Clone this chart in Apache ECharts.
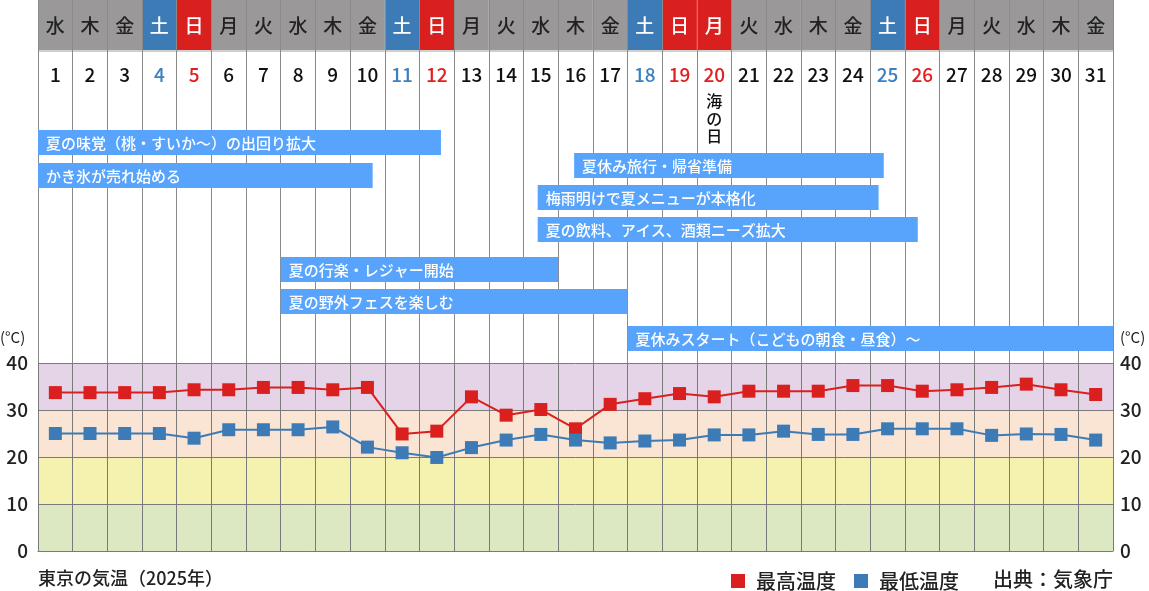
<!DOCTYPE html>
<html><head><meta charset="utf-8">
<script src="https://cdn.jsdelivr.net/npm/echarts@6/dist/echarts.min.js"></script>
<style>html,body{margin:0;padding:0;background:#fff}#c{width:1149px;height:591px}</style>
</head><body><div id="c"></div>
<script>
// ---------- data ----------
const days = [1,2,3,4,5,6,7,8,9,10,11,12,13,14,15,16,17,18,19,20,21,22,23,24,25,26,27,28,29,30,31];
const weekdays = ['水','木','金','土','日','月','火','水','木','金','土','日','月','火','水','木','金','土','日','月','火','水','木','金','土','日','月','火','水','木','金'];
const holidays = [20];
const holidayNames = ['海の日'];
const maxTemp = [33.7,33.7,33.7,33.7,34.3,34.3,34.8,34.8,34.3,34.8,24.9,25.5,32.8,28.9,30.1,26.0,31.2,32.4,33.5,32.8,34.0,34.0,34.0,35.2,35.2,34.0,34.3,34.8,35.5,34.3,33.3];
const minTemp = [25.0,25.0,25.0,25.0,24.0,25.8,25.8,25.8,26.4,22.1,20.9,19.9,22.0,23.6,24.8,23.6,23.0,23.4,23.6,24.7,24.7,25.5,24.8,24.8,26.0,26.0,26.0,24.6,24.9,24.8,23.6];
const eventLabels = ['夏の味覚（桃・すいか〜）の出回り拡大','かき氷が売れ始める','夏休み旅行・帰省準備','梅雨明けで夏メニューが本格化','夏の飲料、アイス、酒類ニーズ拡大','夏の行楽・レジャー開始','夏の野外フェスを楽しむ','夏休みスタート（こどもの朝食・昼食）〜'];
const eventStart = [0,0,15.46,14.41,14.41,7,7,17];
const eventEnd = [11.62,9.65,24.39,24.24,25.37,15,17,31];
const bandEdges = [0,10,20,30,40];
const seriesNames = ['最高温度','最低温度'];

// ---------- layout / style ----------
const FONT = '"Noto Sans CJK JP", "Noto Sans", sans-serif';
const L = { headerH: 50, sepH: 2, weekdayY: 26, numberY: 75, holidayY: 101, holidayLineH: 17.5,
  laneTop: [130,163,153,185,217,257,289,326], laneH: 25, textPad: 8, calH: 363 };
const C = { gray: '#9a9898', sat: '#3c7bb6', sun: '#d9201e', numSat: '#3d80c1', numSun: '#e0201e',
  bar: '#58a4fc', grid: '#7a7a7a', calLine: '#8a8a8a', red: '#d9201e', blue: '#3c7bb6',
  bands: ['#dce8c1', '#f5f2b0', '#fae4d3', '#e5d3e7'] };

function dayType(i) {
  if (holidays.indexOf(days[i]) >= 0 || weekdays[i] === '日') return 2;
  if (weekdays[i] === '土') return 1;
  return 0;
}

const chart = echarts.init(document.getElementById('c'), null, { renderer: 'canvas' });
const option = {
  animation: false,
  title: { text: '東京の気温（2025年）', left: 38, top: 569, padding: 0,
    textStyle: { fontFamily: FONT, fontSize: 18, fontWeight: 500, color: '#222' } },
  legend: { data: seriesNames, left: 731, top: 571, icon: 'rect', itemWidth: 14, itemHeight: 14, itemGap: 18, padding: 0,
    textStyle: { fontFamily: FONT, fontSize: 20, fontWeight: 500, color: '#222', padding: [0, 0, 0, 6] } },
  graphic: [
    { type: 'text', right: 36, top: 569, style: { text: '出典：気象庁', font: '500 20px ' + FONT, fill: '#222' } },
    { type: 'text', left: 0, top: 330, style: { text: '(°C)', font: '15px ' + FONT, fill: '#222' } },
    { type: 'text', left: 1120, top: 330, style: { text: '(°C)', font: '15px ' + FONT, fill: '#222' } }
  ],
  grid: [
    { left: 38, right: 36, top: 0, height: L.calH },
    { left: 38, right: 36, top: 363, bottom: 40 }
  ],
  xAxis: [
    { type: 'value', gridIndex: 0, min: 0, max: 31, interval: 1, z: 2,
      axisLine: { show: false }, axisTick: { show: false }, axisLabel: { show: false },
      splitLine: { show: true, lineStyle: { color: C.calLine, width: 1 } } },
    { type: 'category', gridIndex: 1, data: days, boundaryGap: true, z: 3,
      axisLine: { show: true, lineStyle: { color: C.grid, width: 1 } }, axisTick: { show: false }, axisLabel: { show: false },
      splitLine: { show: true, interval: 0, lineStyle: { color: C.grid, width: 1 } } }
  ],
  yAxis: [
    { type: 'value', gridIndex: 0, min: 0, max: L.calH, inverse: true, show: false },
    { type: 'value', gridIndex: 1, min: 0, max: 40, interval: 10, position: 'left', z: 3,
      axisLine: { show: false }, axisTick: { show: false },
      axisLabel: { fontFamily: FONT, fontSize: 19, fontWeight: 500, color: '#222', margin: 10 },
      splitLine: { show: true, lineStyle: { color: C.grid, width: 1 } } },
    { type: 'value', gridIndex: 1, min: 0, max: 40, interval: 10, position: 'right', z: 3,
      axisLine: { show: false }, axisTick: { show: false },
      axisLabel: { fontFamily: FONT, fontSize: 19, fontWeight: 500, color: '#222', margin: 7 },
      splitLine: { show: false } }
  ],
  series: [
    { // calendar header + day numbers
      type: 'custom', xAxisIndex: 0, yAxisIndex: 0, z: 1, silent: true,
      data: days.map((d, i) => [i, 0]),
      encode: { x: 0, y: 1 },
      renderItem: function (params, api) {
        const i = api.value(0);
        const t = dayType(i);
        const p0 = api.coord([i, 0]);
        const p1 = api.coord([i + 1, L.headerH]);
        const p2 = api.coord([i + 1, L.headerH + L.sepH]);
        const cx = (p0[0] + p1[0]) / 2;
        const children = [
          { type: 'rect', shape: { x: p0[0], y: p0[1], width: p1[0] - p0[0], height: p1[1] - p0[1] },
            style: { fill: t === 2 ? C.sun : (t === 1 ? C.sat : C.gray) } },
          { type: 'rect', shape: { x: p0[0], y: p1[1], width: p1[0] - p0[0], height: p2[1] - p1[1] },
            style: { fill: '#cfcfcf' } },
          { type: 'text', style: { text: weekdays[i], x: cx, y: api.coord([i, L.weekdayY])[1], align: 'center', verticalAlign: 'middle',
            font: '500 19px ' + FONT, fill: t === 0 ? '#222' : '#fff' } },
          { type: 'text', style: { text: String(days[i]), x: cx, y: api.coord([i, L.numberY])[1], align: 'center', verticalAlign: 'middle',
            font: '500 19px ' + FONT, fill: t === 2 ? C.numSun : (t === 1 ? C.numSat : '#111') } }
        ];
        const h = holidays.indexOf(days[i]);
        if (h >= 0) {
          children.push({ type: 'text', style: { text: holidayNames[h].split('').join('\n'), x: cx, y: api.coord([i, L.holidayY])[1] - L.holidayLineH / 2,
            align: 'center', verticalAlign: 'top', lineHeight: L.holidayLineH, font: '500 16px ' + FONT, fill: '#111' } });
        }
        return { type: 'group', children: children };
      }
    },
    { // event bars
      type: 'custom', xAxisIndex: 0, yAxisIndex: 0, z: 4, silent: true,
      data: eventLabels.map((n, k) => [eventStart[k], eventEnd[k], k]),
      encode: { x: [0, 1], y: 2 },
      renderItem: function (params, api) {
        const k = api.value(2);
        const top = L.laneTop[k];
        const p0 = api.coord([api.value(0), top]);
        const p1 = api.coord([api.value(1), top + L.laneH]);
        return { type: 'group', children: [
          { type: 'rect', shape: { x: p0[0], y: p0[1], width: p1[0] - p0[0], height: p1[1] - p0[1] }, style: { fill: C.bar } },
          { type: 'text', style: { text: eventLabels[k], x: p0[0] + L.textPad, y: (p0[1] + p1[1]) / 2 + 1, align: 'left', verticalAlign: 'middle',
            font: '500 15px ' + FONT, fill: '#fff' } }
        ] };
      }
    },
    { // temperature bands
      type: 'custom', xAxisIndex: 1, yAxisIndex: 1, z: 1, silent: true,
      data: bandEdges.slice(0, -1).map((lo, k) => [lo, bandEdges[k + 1], k]),
      encode: { y: [0, 1] },
      renderItem: function (params, api) {
        const cs = params.coordSys;
        const yLo = api.coord([0, api.value(0)])[1];
        const yHi = api.coord([0, api.value(1)])[1];
        return { type: 'rect', shape: { x: cs.x, y: yHi, width: cs.width, height: yLo - yHi },
          style: { fill: C.bands[api.value(2)] } };
      }
    },
    { name: seriesNames[0], type: 'line', xAxisIndex: 1, yAxisIndex: 1, z: 5, data: maxTemp,
      symbol: 'rect', symbolSize: 13, lineStyle: { color: C.red, width: 2 }, itemStyle: { color: C.red } },
    { name: seriesNames[1], type: 'line', xAxisIndex: 1, yAxisIndex: 1, z: 5, data: minTemp,
      symbol: 'rect', symbolSize: 13, lineStyle: { color: C.blue, width: 2 }, itemStyle: { color: C.blue } }
  ]
};
chart.setOption(option);
</script></body></html>
